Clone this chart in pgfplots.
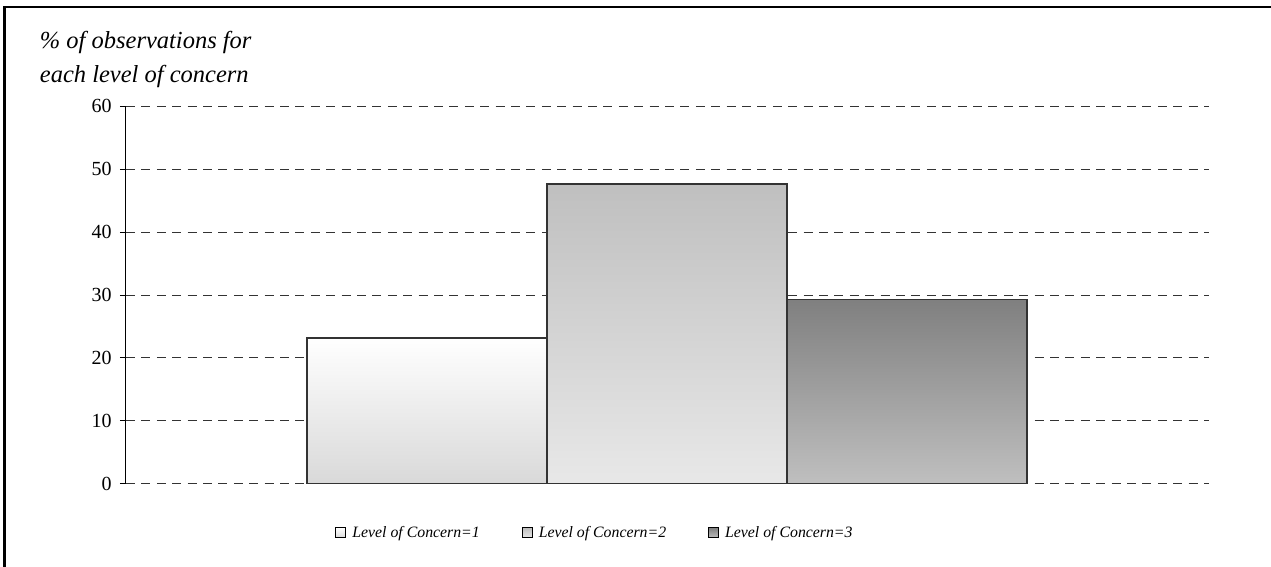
\documentclass[border=0pt]{standalone}
\usepackage{fontspec}
\setmainfont{Liberation Serif}
\usepackage{pgfplots}
\pgfplotsset{compat=1.18}
\begin{document}
\begin{tikzpicture}
\begin{axis}[
  at={(0,0)}, anchor=south west,
  scale only axis, width=541.5pt, height=189pt,
  xmin=-1.254, xmax=3.258, ymin=0, ymax=60,
  axis x line=none, axis y line*=left,
  y axis line style={-, black, line width=0.5pt},
  xtick=\empty,
  ytick={0,10,...,60},
  tick align=outside, major tick length=3pt,
  tick style={black, line width=0.5pt},
  ymajorgrids,
  major grid style={dash pattern=on 4.5pt off 3.2pt, black!80, line width=0.5pt},
  yticklabel style={font=\fontsize{10}{11}\selectfont, /pgf/number format/assume math mode=true, anchor=east, inner sep=0pt, xshift=-4pt},
  legend columns=3,
  legend image code/.code={\draw[#1, draw=black, line width=0.5pt] (0pt,-2.5pt) rectangle (5pt,2.5pt);},
  legend style={at={(0.193,-0.1296)}, anchor=west, draw=none, fill=none, inner sep=0pt,
    font=\itshape\fontsize{7.9}{9}\selectfont,
    nodes={inner sep=0pt},
    /tikz/every odd column/.append style={column sep=3pt},
    /tikz/every even column/.append style={column sep=21pt}},
]
\addplot[ybar, bar width=1, bar shift=0pt, draw=black!80, line width=0.8pt, top color=white, bottom color=black!15] coordinates {(0,23.2)};
\addlegendentry{Level of Concern=1}
\addplot[ybar, bar width=1, bar shift=0pt, draw=black!80, line width=0.8pt, top color=black!25, bottom color=black!9] coordinates {(1,47.6)};
\addlegendentry{Level of Concern=2}
\addplot[ybar, bar width=1, bar shift=0pt, draw=black!80, line width=0.8pt, top color=black!50, bottom color=black!25] coordinates {(2,29.3)};
\addlegendentry{Level of Concern=3}
\end{axis}
\path[use as bounding box] (-63pt,-41.5pt) rectangle (572.5pt,242pt);
\draw[line width=1.25pt] (-60.65pt,-41.5pt) -- (-60.65pt,238.6pt) -- (572.5pt,238.6pt);
\node[anchor=base west, inner sep=0pt, font=\itshape\fontsize{12.25}{14}\selectfont] at (-43.25pt,217.75pt) {\% of observations for};
\node[anchor=base west, inner sep=0pt, font=\itshape\fontsize{12.25}{14}\selectfont] at (-43.25pt,200.75pt) {each level of concern};
\end{tikzpicture}
\end{document}
